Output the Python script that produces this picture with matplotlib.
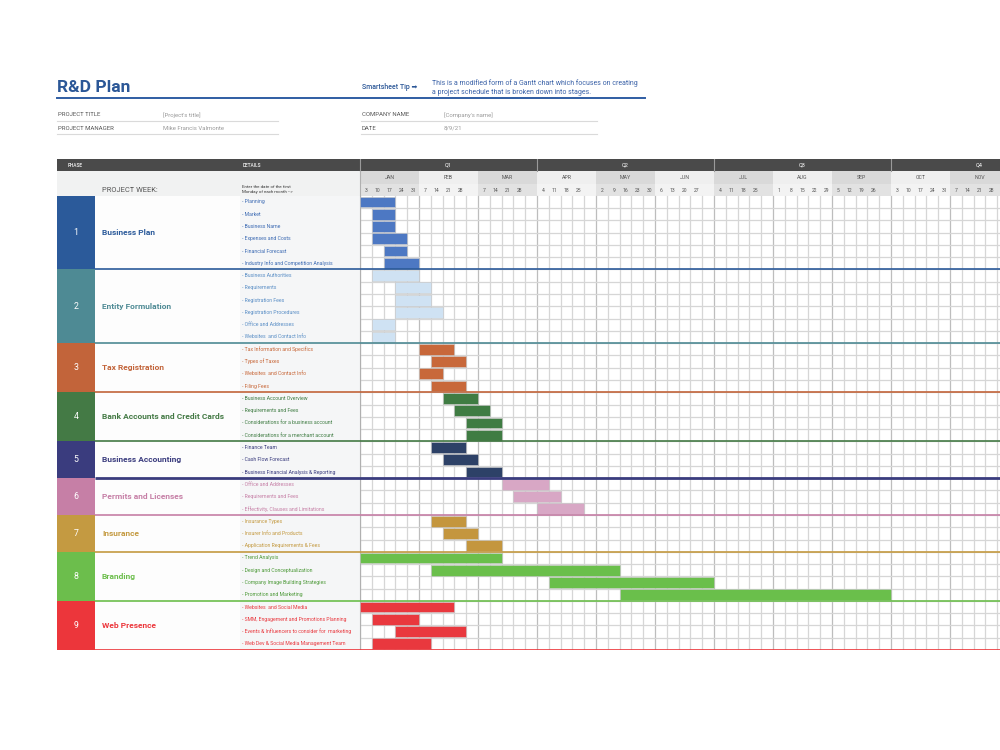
import numpy as np
import matplotlib.pyplot as plt
from matplotlib.patches import Rectangle
from matplotlib.lines import Line2D

plt.rcParams['font.family'] = ['Roboto', 'DejaVu Sans']

# ================= DATA =================

phase_names = ["Business Plan", "Entity Formulation", "Tax Registration",
               "Bank Accounts and Credit Cards", "Business Accounting",
               "Permits and Licenses", "Insurance", "Branding", "Web Presence"]
phase_colors = ["#2B5A9A", "#4E8A94", "#C2643A", "#447A45", "#3A3C7E",
                "#C67FA6", "#C49A41", "#6CBE4C", "#EC363B"]
bar_colors = ["#4D78C3", "#CFE2F3", "#C8683A", "#3F7C43", "#2D4167",
              "#D8A7C5", "#C4963E", "#6ABF4B", "#E9383E"]
detail_colors = ["#3D6BB3", "#5B8FC6", "#C8683A", "#3F7C43", "#3A3C7E",
                 "#C67FA6", "#C49A41", "#4E9A3A", "#E9383E"]

task_names = [
    ["Planning", "Market", "Business Name", "Expenses and Costs",
     "Financial Forecast", "Industry Info and Competition Analysis"],
    ["Business Authorities", "Requirements", "Registration Fees",
     "Registration Procedures", "Office and Addresses", "Websites  and Contact Info"],
    ["Tax Information and Specifics", "Types of Taxes",
     "Websites  and Contact Info", "Filing Fees"],
    ["Business Account Overview", "Requirements and Fees",
     "Considerations for a business account", "Considerations for a merchant account"],
    ["Finance Team", "Cash Flow Forecast", "Business Financial Analysis & Reporting"],
    ["Office and Addresses", "Requirements and Fees", "Effectivity, Clauses and Limitations"],
    ["Insurance Types", "Insurer Info and Products", "Application Requirements & Fees"],
    ["Trend Analysis", "Design and Conceptualization",
     "Company Image Building Strategies", "Promotion and Marketing"],
    ["Websites  and Social Media", "SMM, Engagement and Promotions Planning",
     "Events & Influencers to consider for  marketing",
     "Web Dev & Social Media Management Team"],
]
# first week column (0 = Jan 3) and number of weeks of each task
task_start = [[0, 1, 1, 1, 2, 2], [1, 3, 3, 3, 1, 1], [5, 6, 5, 6], [7, 8, 9, 9],
              [6, 7, 9], [12, 13, 15], [6, 7, 9], [0, 6, 16, 22], [0, 1, 3, 1]]
task_weeks = [[3, 2, 2, 3, 2, 3], [4, 3, 3, 4, 2, 2], [3, 3, 2, 3], [3, 3, 3, 3],
              [3, 3, 3], [4, 4, 4], [3, 3, 3], [12, 16, 14, 23], [8, 4, 6, 5]]

quarters = ["Q1", "Q2", "Q3", "Q4"]
months = ["JAN", "FEB", "MAR", "APR", "MAY", "JUN",
          "JUL", "AUG", "SEP", "OCT", "NOV", "DEC"]
week_days = [[3, 10, 17, 24, 31], [7, 14, 21, 28], [7, 14, 21, 28], [4, 11, 18, 25],
             [2, 9, 16, 23, 30], [6, 13, 20, 27], [4, 11, 18, 25], [1, 8, 15, 22, 29],
             [5, 12, 19, 26], [3, 10, 17, 24, 31], [7, 14, 21, 28], [5, 12, 19, 26]]

# ================= LAYOUT =================

COL = 11.8      # pixels per week column
X0 = 360        # pixel where the week grid starts


def px(x):
    # figure pixel -> week units
    return (x - X0) / COL


def ft(x, y, s, **kw):
    fig.text(x / 1000, 1 - y / 750, s, **kw)


fig = plt.figure(figsize=(10, 7.5), dpi=100)

# ---- page header ----
ft(57, 88, "R&D Plan", fontsize=12.5, fontweight="bold", color="#2B5797", va="center")
fig.add_artist(Line2D([57 / 1000, 645 / 1000], [1 - 98 / 750] * 2, color="#2F5DA3",
                      lw=1.4, transform=fig.transFigure))
ft(362, 87, "Smartsheet Tip \u27a1", fontsize=5, fontweight="medium", color="#2B5797", va="center")
ft(432, 83, "This is a modified form of a Gantt chart which focuses on creating",
   fontsize=5.05, color="#3C63A8", va="center")
ft(432, 92, "a project schedule that is broken down into stages.",
   fontsize=5.05, color="#3C63A8", va="center")

info = [(58, 163, 115, "PROJECT TITLE", "[Project's title]", 278),
        (58, 163, 128, "PROJECT MANAGER", "Mike Francis Valmonte", 278),
        (362, 444, 115, "COMPANY NAME", "[Company's name]", 597),
        (362, 444, 128, "DATE", "8/9/21", 597)]
for xl, xv, y, lab, val, xe in info:
    ft(xl, y, lab, fontsize=4.3, color="#555555", va="center")
    ft(xv, y, val, fontsize=4.3, color="#9A9A9A", va="center")
    fig.add_artist(Line2D([(xl - 1) / 1000, xe / 1000], [1 - (y + 6) / 750] * 2,
                          color="#DADADA", lw=0.8, transform=fig.transFigure))

# ---- table ----
ax = fig.add_axes([57 / 1000, 100 / 750, 943 / 1000, 491 / 750])
ax.set_xlim(px(57), px(1000))
ax.set_ylim(37, -3)
ax.axis("off")

x_left, x_right = px(57), px(1000)
n_cols = 60
last_label = 54     # no labels past the right edge of the page

# dark top bar
ax.add_patch(Rectangle((x_left, -3), x_right - x_left + 10, 1, color="#4A4A4A", lw=0))
ax.text(px(68), -2.5, "PHASE", fontsize=3.4, color="#DDDDDD", fontweight="bold", va="center")
ax.text(px(243), -2.5, "DETAILS", fontsize=3.4, color="#DDDDDD", fontweight="bold", va="center")
for q, name in enumerate(quarters):
    ax.text(q * 15 + 7.5, -2.5, name, fontsize=4, color="white", ha="center", va="center")
    ax.plot([q * 15, q * 15], [-3, -2], color="#9A9A9A", lw=0.8)

# month and week rows
ax.add_patch(Rectangle((x_left, -2), -x_left, 2, color="#F1F2F2", lw=0))
ax.text(px(102), -0.45, "PROJECT WEEK:", fontsize=5.4, color="#555555", va="center")
ax.text(px(242), -0.55, "Enter the date of the first\nMonday of each month -->",
        fontsize=3.2, color="#333333", va="center", linespacing=1.3)
for m, name in enumerate(months):
    dark = m % 2 == 0
    ax.add_patch(Rectangle((m * 5, -2), 5, 1, color="#D9D9D9" if dark else "#EFEFEF", lw=0))
    ax.add_patch(Rectangle((m * 5, -1), 5, 1, color="#E2E2E2" if dark else "#F3F3F3", lw=0))
    if m * 5 + 2.5 < last_label:
        ax.text(m * 5 + 2.5, -1.5, name, fontsize=3.8, color="#555555", ha="center",
                va="center")
    for i, d in enumerate(week_days[m]):
        if m * 5 + i + 0.5 < last_label:
            ax.text(m * 5 + i + 0.5, -0.45, str(d), fontsize=3.6, color="#555555",
                    ha="center", va="center")

# week grid
for c in range(n_cols + 1):
    col = "#BDBDBD" if c % 5 == 0 else "#D6D6D6"
    ax.plot([c, c], [0, 37], color=col, lw=0.9, zorder=1)
for r in range(1, 37):
    ax.plot([0, n_cols], [r, r], color="#D6D6D6", lw=0.9, zorder=1)

# phases
y0 = 0
for p, name in enumerate(phase_names):
    n = len(task_names[p])
    y1 = y0 + n
    ax.add_patch(Rectangle((x_left, y0), px(95) - x_left, n, color=phase_colors[p], lw=0))
    ax.add_patch(Rectangle((px(95), y0), px(240) - px(95), n, color="#FDFDFD", lw=0))
    ax.add_patch(Rectangle((px(240), y0), -px(240), n, color="#F5F6F7", lw=0))
    ax.text(px(76), (y0 + y1) / 2, str(p + 1), fontsize=6.3, color="white",
            ha="center", va="center")
    ax.text(px(102), (y0 + y1) / 2, name, fontsize=6.0, fontweight="bold",
            color=phase_colors[p], va="center")

    rows = y0 + np.arange(n) + 0.5
    for r, t in zip(rows, task_names[p]):
        ax.text(px(242), r, "- " + t, fontsize=3.7, color=detail_colors[p], va="center")
    ax.barh(rows, task_weeks[p], left=task_start[p], height=0.88,
            color=bar_colors[p], edgecolor="#C8C8C8", linewidth=0.4, zorder=3)

    lw = 2.0 if p == 4 else 1.2
    ax.plot([px(95), x_right + 5], [y1, y1], color=phase_colors[p], lw=lw, zorder=4,
            solid_capstyle="butt")
    y0 = y1

ax.plot([0, 0], [-2, 37], color="#B0B0B0", lw=0.8, zorder=2)

plt.savefig("out.png", dpi=100)
